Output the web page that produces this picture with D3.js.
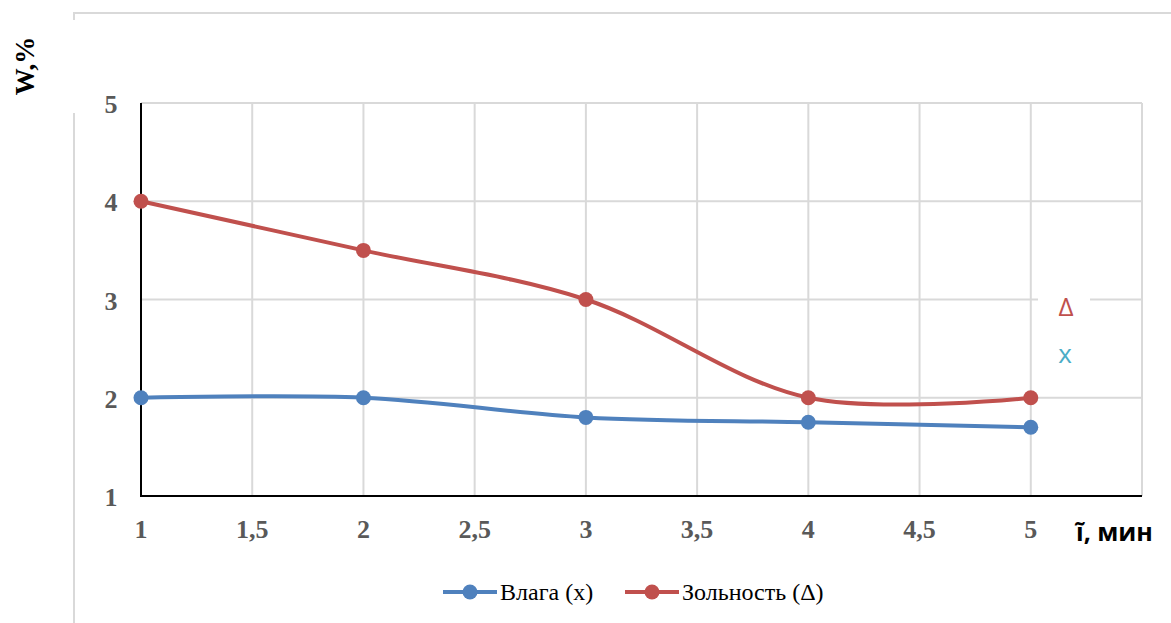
<!DOCTYPE html>
<html>
<meta charset="utf-8">
<head>
    <script src="https://d3js.org/d3.v7.min.js"></script>
</head>
<body>
    <script>
        // chart values
        var times = [1, 2, 3, 4, 5];
        var moisture = [2, 2, 1.8, 1.75, 1.7];
        var ash = [4, 3.5, 3, 2, 2];
        var xTicks = [1, 1.5, 2, 2.5, 3, 3.5, 4, 4.5, 5];
        var yTicks = [1, 2, 3, 4, 5];
        var seriesNames = ["Влага (x)", "Зольность (Δ)"];

        var width = 1171,
            height = 623;

        d3.select("body").style("margin", "0px");

        var svg = d3.select("body").append("svg")
            .attr("width", width)
            .attr("height", height);

        // chart area border
        svg.append("path")
            .attr("d", "M74,20 L74,13 L1171,13 M74,113 L74,623")
            .attr("fill", "none")
            .attr("stroke", "#d9d9d9")
            .attr("stroke-width", 2);

        var x = d3.scaleLinear().domain([1, 5.5]).range([141, 1142]);
        var y = d3.scaleLinear().domain([1, 5]).range([496, 103]);

        // grid
        svg.selectAll("line.vg")
            .data([1.5, 2, 2.5, 3, 3.5, 4, 4.5, 5, 5.5])
            .enter().append("line")
            .attr("x1", d => x(d)).attr("x2", d => x(d))
            .attr("y1", y(5)).attr("y2", y(1))
            .attr("stroke", "#d9d9d9").attr("stroke-width", 2);

        svg.selectAll("line.hg")
            .data([2, 3, 4, 5])
            .enter().append("line")
            .attr("x1", x(1)).attr("x2", x(5.5))
            .attr("y1", d => y(d)).attr("y2", d => y(d))
            .attr("stroke", "#d9d9d9").attr("stroke-width", 2);

        // axes lines
        svg.append("line")
            .attr("x1", x(1)).attr("x2", x(1))
            .attr("y1", y(5)).attr("y2", y(1))
            .attr("stroke", "black").attr("stroke-width", 2);
        svg.append("line")
            .attr("x1", x(1) - 1).attr("x2", x(5.5))
            .attr("y1", y(1)).attr("y2", y(1))
            .attr("stroke", "black").attr("stroke-width", 2);

        // tick labels
        svg.selectAll("text.xt")
            .data(xTicks)
            .enter().append("text")
            .style("font-family", "Liberation Serif")
            .attr("font-weight", "bold")
            .attr("font-size", 26)
            .attr("x", d => x(d))
            .attr("y", 538)
            .attr("text-anchor", "middle")
            .attr("fill", "#595959")
            .text(d => String(d).replace(".", ","));

        svg.selectAll("text.yt")
            .data(yTicks)
            .enter().append("text")
            .style("font-family", "Liberation Serif")
            .attr("font-weight", "bold")
            .attr("font-size", 26)
            .attr("x", 111)
            .attr("y", d => y(d) + 10)
            .attr("text-anchor", "middle")
            .attr("fill", "#595959")
            .text(d => d);

        // axis titles
        svg.append("text")
            .style("font-family", "Liberation Serif")
            .attr("font-weight", "bold")
            .attr("font-size", 27)
            .attr("transform", "translate(34,66) rotate(-90)")
            .attr("text-anchor", "middle")
            .attr("fill", "black")
            .text("W,%");

        svg.append("text")
            .style("font-family", "Open Sans")
            .attr("font-weight", "bold")
            .attr("font-size", 25)
            .attr("x", 1076)
            .attr("y", 541)
            .attr("fill", "black")
            .text("ĩ, мин");

        // annotation labels over the grid
        svg.append("rect")
            .attr("x", 1038).attr("y", 290).attr("width", 52).attr("height", 24)
            .attr("fill", "white");
        svg.append("text")
            .style("font-family", "Open Sans")
            .attr("font-size", 26)
            .attr("x", 1066).attr("y", 316)
            .attr("text-anchor", "middle")
            .attr("fill", "#c0504d")
            .text("Δ");
        svg.append("text")
            .style("font-family", "Open Sans")
            .attr("font-size", 26)
            .attr("x", 1065).attr("y", 363)
            .attr("text-anchor", "middle")
            .attr("fill", "#4bacc6")
            .text("x");

        var series = [
            { name: seriesNames[0], values: moisture, color: "#4f81bd" },
            { name: seriesNames[1], values: ash, color: "#c0504d" }
        ];

        var line = d3.line()
            .x((d, i) => x(times[i]))
            .y(d => y(d))
            .curve(d3.curveCatmullRom.alpha(0.5));

        series.forEach(function(s) {
            svg.append("path")
                .datum(s.values)
                .attr("d", line)
                .attr("fill", "none")
                .attr("stroke", s.color)
                .attr("stroke-width", 4)
                .attr("stroke-linecap", "round");

            svg.selectAll(null)
                .data(s.values)
                .enter().append("circle")
                .attr("cx", (d, i) => x(times[i]))
                .attr("cy", d => y(d))
                .attr("r", 7.5)
                .attr("fill", s.color);
        });

        // legend
        var legendX = [443, 625];
        series.forEach(function(s, i) {
            var lx = legendX[i];
            svg.append("line")
                .attr("x1", lx).attr("x2", lx + 54)
                .attr("y1", 592).attr("y2", 592)
                .attr("stroke", s.color).attr("stroke-width", 4);
            svg.append("circle")
                .attr("cx", lx + 27).attr("cy", 592).attr("r", 7.5)
                .attr("fill", s.color);
            svg.append("text")
                .style("font-family", "Liberation Serif")
                .attr("font-size", 24)
                .attr("x", lx + 57).attr("y", 600)
                .attr("fill", "black")
                .text(s.name);
        });
    </script>
</body>
</html>
